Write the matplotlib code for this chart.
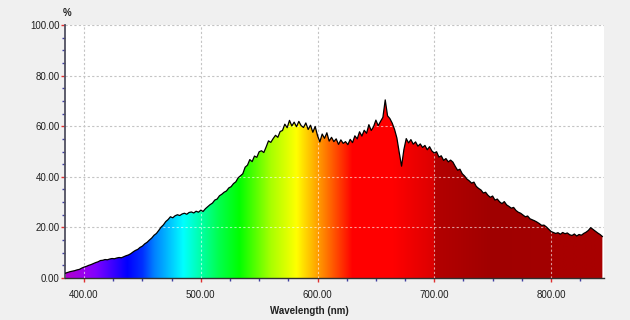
import numpy as np
import matplotlib
matplotlib.use("Agg")
import matplotlib.pyplot as plt
from matplotlib.colors import LinearSegmentedColormap

# wavelength grid (nm) and measured relative intensity (%)
wl = np.arange(384, 846, 2)
vals = [
    1.9, 2.2, 2.5, 2.7, 2.9, 3.2, 3.4, 3.9, 4.3, 4.6,          # 384-402
    5.0, 5.3, 5.7, 6.1, 6.4, 6.9, 7.0, 7.3, 7.2, 7.5,          # 404-422
    7.7, 7.6, 7.9, 8.1, 8.0, 8.4, 8.8, 9.1, 9.6, 10.3,         # 424-442
    10.9, 11.3, 12.1, 12.6, 13.5, 14.1, 15.0, 15.8, 16.9, 17.6,  # 444-462
    18.8, 20.1, 21.0, 22.3, 23.1, 24.2, 23.8, 24.6, 25.0, 24.7,  # 464-482
    25.3, 25.6, 25.2, 25.9, 26.1, 25.7, 26.4, 26.0, 26.8, 26.3,  # 484-502
    27.4, 28.2, 29.0, 29.6, 30.8, 31.2, 32.5, 33.1, 33.9, 34.4,  # 504-522
    35.6, 36.1, 37.3, 38.0, 39.6, 40.4, 41.2, 43.8, 44.6, 46.8,  # 524-542
    46.0, 48.2, 47.7, 49.9, 50.3, 49.6, 51.8, 54.2, 53.6, 55.1,  # 544-562
    56.4, 55.6, 57.9, 58.3, 60.8, 59.4, 62.3, 60.1, 61.6, 59.8,  # 564-582
    61.9, 60.2, 59.5, 61.3, 58.7, 60.4, 57.6, 59.9, 56.3, 53.8,  # 584-602
    56.9, 55.2, 57.4, 54.1, 55.6, 53.9, 55.0, 52.8, 54.6, 53.2,  # 604-622
    53.9, 52.7, 54.8, 53.5, 56.2, 55.0, 57.8, 56.1, 58.4, 57.2,  # 624-642
    60.6, 58.3, 59.8, 62.4, 60.2, 61.9, 63.5, 70.4, 64.1, 63.0,  # 644-662
    61.2, 58.7, 55.3, 49.6, 44.2, 50.8, 55.1, 53.4, 54.7, 52.9,  # 664-682
    53.8, 52.1, 53.0, 51.6, 52.4, 50.7, 51.9, 50.2, 49.4, 49.9,  # 684-702
    47.8, 48.3, 46.5, 47.2, 45.9, 46.6, 45.8, 44.1, 42.6, 43.0,  # 704-722
    41.2, 40.3, 39.1, 38.4, 37.5, 37.9, 36.2, 35.4, 34.8, 33.6,  # 724-742
    33.9, 32.7, 31.9, 32.4, 30.8, 31.2, 30.1, 29.4, 30.2, 28.9,  # 744-762
    28.3, 27.6, 27.9, 26.7, 26.0, 25.6, 24.9, 24.2, 24.5, 23.4,  # 764-782
    23.0, 22.6, 22.1, 21.5, 20.8, 20.9, 20.2, 19.3, 18.4, 18.0,  # 784-802
    17.6, 17.9, 17.3, 18.0, 17.5, 17.8, 17.1, 16.8, 17.4, 16.6,  # 804-822
    17.2, 16.9, 17.6, 18.1, 18.8, 19.9, 19.2, 18.5, 17.8, 17.2,  # 824-842
    16.4,                                                        # 844
]

x_lo, x_hi = 383.7, 845.4
x_ticks = [400, 500, 600, 700, 800]
y_ticks = [0, 20, 40, 60, 80, 100]

# spectrum colour stops (wavelength, colour)
stops = [
    (383.7, "#b000cc"), (400, "#9a00f0"), (410, "#8000ff"), (437, "#0000ff"),
    (450, "#0030ff"), (460, "#0080ff"), (485, "#00ffff"), (500, "#00ffa8"),
    (515, "#00ff50"), (533, "#00ff00"), (560, "#a8ff00"), (582, "#ffff00"),
    (600, "#ffa000"), (615, "#ff5000"), (630, "#ff0000"), (665, "#ff0000"),
    (699.8, "#dc0000"), (700.2, "#b40000"), (750, "#a00000"),
    (799.8, "#a30000"), (800.2, "#a80000"), (845.4, "#a80000"),
]
cmap = LinearSegmentedColormap.from_list(
    "spec", [((w - x_lo) / (x_hi - x_lo), c) for w, c in stops], N=1024)

plt.rcParams['font.family'] = ['Liberation Sans', 'DejaVu Sans']

fig = plt.figure(figsize=(6.3, 3.2), dpi=100, facecolor="#f0f0f0")
ax = fig.add_axes([65 / 630, 42 / 320, 539 / 630, 253 / 320])
ax.set_facecolor("white")

ax.set_xlim(x_lo, x_hi)
ax.set_ylim(0, 100)

# grid under the fill
ax.grid(True, color="#c4c4c4", linestyle=(0, (2, 2)), linewidth=0.8)
ax.set_axisbelow(True)

# gradient fill clipped to the area under the curve
poly = ax.fill_between(wl, 0, vals, color="none", linewidth=0)
grad = np.linspace(0, 1, 1024).reshape(1, -1)
im = ax.imshow(grad, extent=[x_lo, x_hi, 0, 100], aspect="auto",
               cmap=cmap, origin="lower", zorder=2)
clip = poly.get_paths()[0]
im.set_clip_path(clip, transform=ax.transData)

# light grid lines over the fill
for xv in x_ticks:
    ln = ax.axvline(xv, color="white", alpha=0.6, linestyle=(0, (2, 2)),
                    linewidth=0.8, zorder=3)
    ln.set_clip_path(clip, transform=ax.transData)
for yv in y_ticks[1:]:
    ln = ax.axhline(yv, color="white", alpha=0.6, linestyle=(0, (2, 2)),
                    linewidth=0.8, zorder=3)
    ln.set_clip_path(clip, transform=ax.transData)

ax.plot(wl, vals, color="black", linewidth=0.9, zorder=4)

# axes styling
for s in ("top", "right"):
    ax.spines[s].set_visible(False)
ax.spines["left"].set_color("#505060")
ax.spines["left"].set_linewidth(1.3)
ax.spines["bottom"].set_color("#303030")
ax.spines["bottom"].set_linewidth(1.0)

ax.set_xticks(x_ticks)
ax.set_xticklabels([f"{v:.2f}" for v in x_ticks])
ax.set_yticks(y_ticks)
ax.set_yticklabels([f"{v:.2f}" for v in y_ticks])
ax.set_xticks(np.arange(425, 845, 25)[np.arange(425, 845, 25) % 100 != 0], minor=True)
ax.set_yticks([v for v in range(5, 100, 5) if v % 20 != 0], minor=True)

ax.tick_params(which="major", length=3, width=1, color="#e03030",
               labelsize=7, labelcolor="#202020")
ax.tick_params(axis="x", which="major", pad=6)
ax.tick_params(axis="y", which="major", pad=1)
ax.tick_params(which="minor", length=2, width=1, color="#4040a0")

fig.text(309 / 630, 9 / 320, "Wavelength (nm)", ha="center", va="center",
         fontsize=7, fontweight="bold", color="#202020")
fig.text(67 / 630, 307 / 320, "%", ha="center", va="center",
         fontsize=7, fontweight="bold", color="#202020")

fig.savefig("out.png", dpi=100, facecolor=fig.get_facecolor())
